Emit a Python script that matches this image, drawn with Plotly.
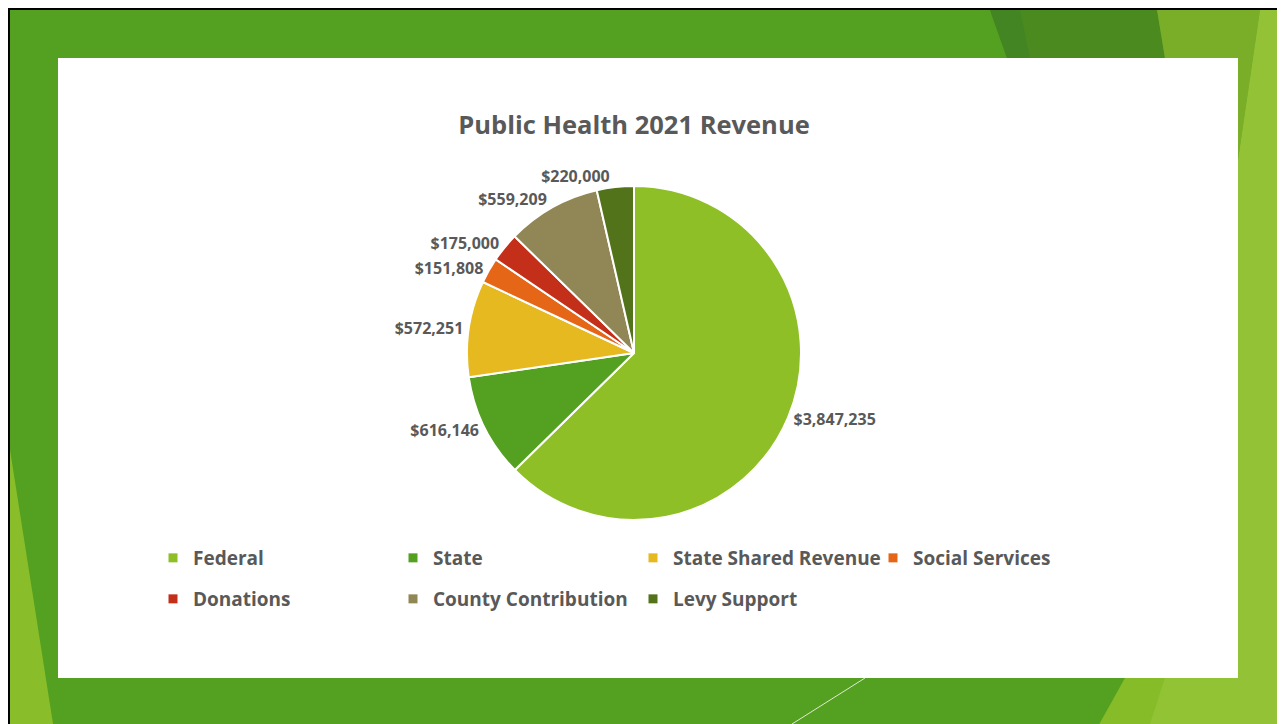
import plotly.graph_objects as go

fontes = ['Federal', 'State', 'State Shared Revenue', 'Social Services',
          'Donations', 'County Contribution', 'Levy Support']
valores = [3847235, 616146, 572251, 151808, 175000, 559209, 220000]
cores = ['#8FBF27', '#54A021', '#E5B91F', '#E66618', '#C42F1A', '#918655', '#53731A']

# a página tem margem de 8px, então a figura fica deslocada
W, H = 1277, 716
OFF = 8
CINZA = '#595959'
FONTE = 'Open Sans'


def px(x):
    return (x - OFF) / W


def py(y):
    return 1 - (y - OFF) / H


def poligono(pontos, cor):
    caminho = 'M ' + ' L '.join(f'{px(x):.4f},{py(y):.4f}' for x, y in pontos) + ' Z'
    return dict(type='path', xref='paper', yref='paper', path=caminho,
                fillcolor=cor, line=dict(width=0), layer='below')


fig = go.Figure()

fig.add_trace(go.Pie(
    labels=fontes, values=valores, sort=False, direction='clockwise',
    marker=dict(colors=cores, line=dict(color='white', width=2)),
    texttemplate='$%{value:,}', textposition='outside',
    outsidetextfont=dict(family=FONTE, size=16, color=CINZA, weight='bold'),
    domain=dict(x=[px(467), px(801)], y=[py(520), py(186)]),
    showlegend=False, hoverinfo='label+value+percent'
))

# legenda em duas linhas como no slide
for i, (nome, cor) in enumerate(zip(fontes, cores)):
    fig.add_trace(go.Scatter(
        x=[None], y=[None], mode='markers', name=nome,
        marker=dict(symbol='square', size=9, color=cor),
        legend='legend' if i < 4 else 'legend2'
    ))

legenda = dict(
    orientation='h', xanchor='left', yanchor='middle',
    font=dict(family=FONTE, size=19, color=CINZA, weight='bold'),
    entrywidth=195, entrywidthmode='pixels', bgcolor='rgba(0,0,0,0)'
)

formas = [
    # faixas decorativas do slide
    poligono([(990, 10), (1157, 10), (1165, 58), (1007, 58)], '#4A8A1E'),
    poligono([(990, 10), (1020, 10), (1030, 58), (1007, 58)], '#438523'),
    poligono([(1157, 10), (1260, 10), (1238, 160), (1238, 58), (1165, 58)], '#7AAE28'),
    poligono([(1260, 10), (1290, 10), (1290, 730), (1238, 730), (1238, 160)], '#93C236'),
    poligono([(1125, 678), (1238, 678), (1238, 730), (1096, 730)], '#86BC27'),
    poligono([(1165, 678), (1238, 678), (1238, 730), (1148, 730)], '#92C334'),
    poligono([(10, 450), (54, 730), (10, 730)], '#8ABD2A'),
    # painel branco
    dict(type='rect', xref='paper', yref='paper', x0=px(58), x1=px(1238),
         y0=py(678), y1=py(58), fillcolor='white', line=dict(width=0), layer='below'),
    # borda preta
    dict(type='line', xref='paper', yref='paper', x0=0, x1=1, y0=py(9), y1=py(9),
         line=dict(color='black', width=2), layer='below'),
    dict(type='line', xref='paper', yref='paper', x0=px(9), x1=px(9), y0=0, y1=1,
         line=dict(color='black', width=2), layer='below'),
    dict(type='line', xref='paper', yref='paper', x0=px(792), x1=px(865), y0=py(724), y1=py(678),
         line=dict(color='#DDEBD0', width=1), layer='below'),
]

fig.update_layout(
    width=W, height=H,
    margin=dict(l=0, r=0, t=0, b=0),
    paper_bgcolor='#54A021',
    plot_bgcolor='rgba(0,0,0,0)',
    title=dict(
        text='<b>Public Health 2021 Revenue</b>',
        x=px(634), xanchor='center', y=py(125), yanchor='middle',
        font=dict(family=FONTE, size=25.5, color=CINZA)
    ),
    xaxis=dict(visible=False),
    yaxis=dict(visible=False),
    legend=dict(legenda, x=px(153), y=py(558)),
    legend2=dict(legenda, x=px(153), y=py(599)),
    shapes=formas
)

fig.write_html('out.html')
